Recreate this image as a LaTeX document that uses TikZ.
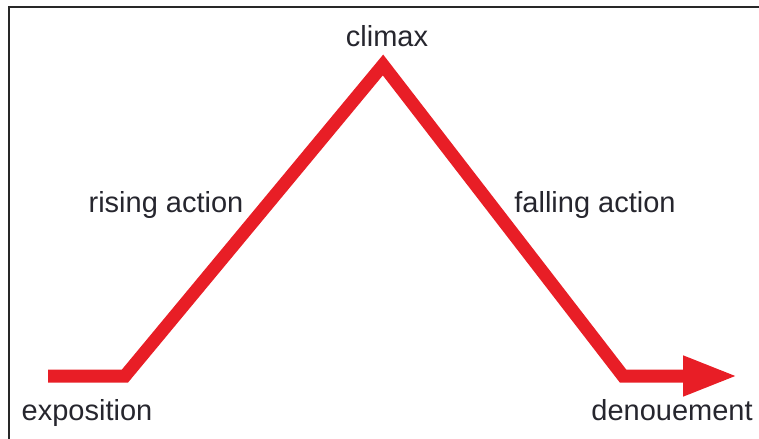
\documentclass[tikz,border=0pt]{standalone}
\usepackage{fontspec}
\setmainfont{Liberation Sans}
\usetikzlibrary{arrows.meta}
\definecolor{plotred}{RGB}{232,30,38}
\definecolor{labelgrey}{RGB}{38,38,46}
\definecolor{framegrey}{RGB}{40,40,40}
\begin{document}
\begin{tikzpicture}[x=1bp,y=-1bp,
  lbl/.style={anchor=base,inner sep=0pt,text=labelgrey,font=\fontsize{29bp}{32bp}\selectfont},
  plotline/.style={draw=plotred,line width=13bp,line join=miter,line cap=butt},
  frameline/.style={draw=framegrey,line width=1.6bp}]
\useasboundingbox (0,0) rectangle (759,439);
% frame (top and left edges visible)
\coordinate (fbl) at (9,439);
\coordinate (ftl) at (9,7);
\coordinate (ftr) at (759,7);
\draw[frameline] (fbl) -- (ftl) -- (ftr);
% plot line
\coordinate (start) at (48,376);
\coordinate (expo) at (125,376);
\coordinate (peak) at (383,65);
\coordinate (deno) at (623,376);
\coordinate (tip) at (738,376);
\draw[plotline,-{Triangle[length=55bp,width=37bp]}] (start) -- (expo) -- (peak) -- (deno) -- (tip);
% labels
\node[lbl] (lclimax) at (387,47) {climax};
\node[lbl] (lrising) at (166,213) {rising action};
\node[lbl] (lfalling) at (595,213) {falling action};
\node[lbl] (lexpo) at (87,420) {exposition};
\node[lbl] (ldeno) at (672,420) {denouement};
\end{tikzpicture}
\end{document}
